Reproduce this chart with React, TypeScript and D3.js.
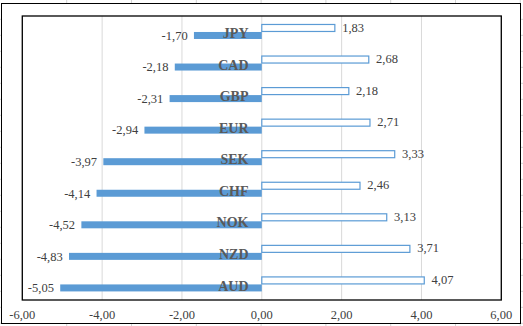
import React from "react";
import * as d3 from "d3";

const categories = ["JPY", "CAD", "GBP", "EUR", "SEK", "CHF", "NOK", "NZD", "AUD"];
const positiveValues = [1.83, 2.68, 2.18, 2.71, 3.33, 2.46, 3.13, 3.71, 4.07];
const negativeValues = [-1.7, -2.18, -2.31, -2.94, -3.97, -4.14, -4.52, -4.83, -5.05];
const xTicks = [-6, -4, -2, 0, 2, 4, 6];

const W = 523;
const H = 326;
const BLUE = "#5B9BD5";
const fmt = (v: number) => v.toFixed(2).replace(".", ",");

export default function App() {
  const x = d3.scaleLinear().domain([-6, 6]).range([22.3, 501.3]);
  const y = d3.scaleBand<string>().domain(categories).range([16, 300]);
  const bh = 7;
  const font = "'Liberation Serif', 'Times New Roman', serif";

  // faint spreadsheet grid remnants
  const colLines = d3.range(0, 8).map((i) => 66.7 + i * 64.8);
  const rowLines = d3.range(0, 20).map((i) => 19.3 + i * 16);

  return (
    <svg
      width={W}
      height={H}
      style={{ position: "absolute", left: 0, top: 0, background: "#fff" }}
    >
      <rect x={0} y={0} width={W} height={H} fill="#fff" />
      {colLines.map((cx, i) => (
        <g key={"c" + i}>
          <line x1={cx} x2={cx} y1={0} y2={3} stroke="#d4d4d4" strokeWidth={1} />
          <line x1={cx} x2={cx} y1={324} y2={326} stroke="#d4d4d4" strokeWidth={1} />
        </g>
      ))}
      {rowLines.map((ry, i) => (
        <g key={"r" + i}>
          <line x1={0} x2={1} y1={ry} y2={ry} stroke="#d4d4d4" strokeWidth={1} />
          <line x1={521} x2={523} y1={ry} y2={ry} stroke="#d4d4d4" strokeWidth={1} />
        </g>
      ))}
      {/* outer chart border */}
      <rect x={1.5} y={3.5} width={519} height={320} fill="#fff" stroke="#000" strokeWidth={1} />
      {/* gridlines */}
      {xTicks.map((t) => (
        <line key={"g" + t} x1={x(t)} x2={x(t)} y1={16} y2={300} stroke="#d9d9d9" strokeWidth={1} />
      ))}
      {/* bars */}
      {categories.map((c, i) => {
        const cy = (y(c) as number) + y.bandwidth() / 2;
        const pv = positiveValues[i];
        const nv = negativeValues[i];
        return (
          <g key={c}>
            <rect
              x={x(0)}
              y={cy - 7.3}
              width={x(pv) - x(0)}
              height={bh}
              fill="#fff"
              stroke={BLUE}
              strokeWidth={1.2}
            />
            <rect x={x(nv)} y={cy + 0.2} width={x(0) - x(nv)} height={bh} fill={BLUE} />
            <text
              x={x(pv) + 7.3}
              y={cy - 0.2}
              fontFamily={font}
              fontSize={12.5}
              fill="#404040"
            >
              {fmt(pv)}
            </text>
            <text
              x={x(nv) - 6.3}
              y={cy + 8}
              fontFamily={font}
              fontSize={12.5}
              fill="#404040"
              textAnchor="end"
            >
              {fmt(nv)}
            </text>
            <text
              x={248.5}
              y={cy + 6.3}
              fontFamily={font}
              fontSize={14}
              fontWeight="bold"
              fill="#595959"
              textAnchor="end"
            >
              {c}
            </text>
          </g>
        );
      })}
      {/* plot area border */}
      <rect x={22.3} y={16} width={479} height={284} fill="none" stroke="#000" strokeWidth={1.3} />
      {/* x tick labels */}
      {xTicks.map((t) => (
        <text
          key={"t" + t}
          x={x(t)}
          y={319}
          fontFamily={font}
          fontSize={12.5}
          fill="#404040"
          textAnchor="middle"
        >
          {fmt(t)}
        </text>
      ))}
    </svg>
  );
}
